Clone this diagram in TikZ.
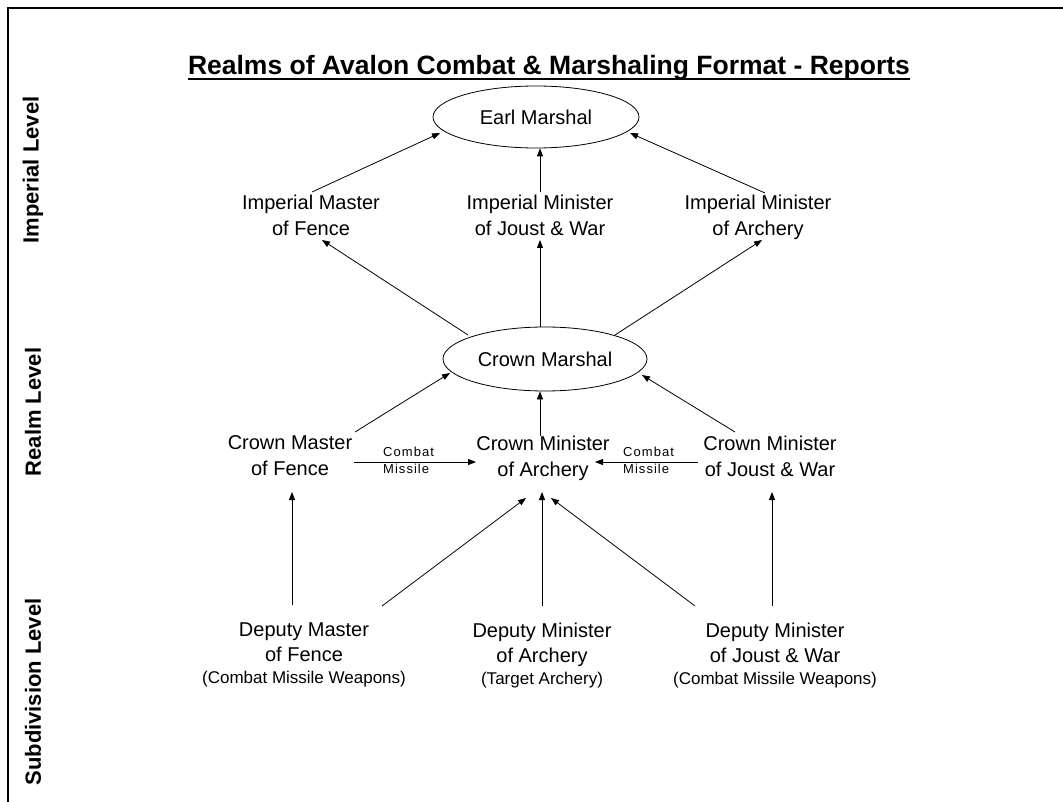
\documentclass[tikz,border=0pt]{standalone}
\usepackage{fontspec}
\setmainfont{Liberation Sans}
\usetikzlibrary{arrows.meta,shapes.geometric,calc}
\begin{document}
\begin{tikzpicture}[x=1pt,y=-1pt,
  lbl/.style={align=center,anchor=north,inner sep=0pt,font=\fontsize{20}{26}\selectfont},
  dep/.style={align=center,anchor=north,inner sep=0pt,font=\fontsize{20}{25}\selectfont},
  oval/.style={ellipse,draw,line width=0.8pt,inner sep=0pt,font=\fontsize{20}{26}\selectfont},
  tiny/.style={align=left,anchor=north west,inner sep=0pt,font=\fontsize{13}{17}\selectfont\addfontfeatures{LetterSpace=8}},
  side/.style={rotate=90,inner sep=0pt,font=\bfseries\fontsize{22}{26}\selectfont},
  arr/.style={-{Triangle[length=8pt,width=6pt]},line width=0.8pt}]
\useasboundingbox[fill=white] (0,0) rectangle (1063,802);
\draw[line width=1.6pt] (1063,8) -- (8,8) -- (8,802);
% title
\node[anchor=base,inner sep=0pt,font=\bfseries\fontsize{26.5}{30}\selectfont] (title) at (549,75) {Realms of Avalon Combat \& Marshaling Format - Reports};
\draw[line width=2pt] ($(title.base west)+(0,4.5)$) -- ($(title.base east)+(0,4.5)$);
% side labels
\node[side] (lvimp) at (33,170) {Imperial Level};
\node[side] (lvrealm) at (33,412) {Realm Level};
\node[side] (lvsub) at (33,692) {Subdivision Level};
% nodes
\node[oval,minimum width=206pt,minimum height=62pt] (em) at (536,117) {Earl Marshal};
\node[lbl] (imf) at (311,194.5) {Imperial Master\\of Fence};
\node[lbl] (imj) at (540,194.5) {Imperial Minister\\of Joust \& War};
\node[lbl] (ima) at (758,194.5) {Imperial Minister\\of Archery};
\node[oval,minimum width=204pt,minimum height=64pt] (cm) at (545,359) {Crown Marshal};
\node[lbl] (cmf) at (290,435.5) {Crown Master\\of Fence};
\node[lbl] (cma) at (543,435.5) {Crown Minister\\of Archery};
\node[lbl] (cmj) at (770,435.5) {Crown Minister\\of Joust \& War};
\node[tiny] (cb1) at (383,447) {Combat\\Missile};
\node[tiny] (cb2) at (623,447) {Combat\\Missile};
\node[dep] (dmf) at (304,622.5) {Deputy Master\\of Fence\\[-3pt]{\fontsize{17}{22}\selectfont (Combat Missile Weapons)}};
\node[dep] (dma) at (542,622.5) {Deputy Minister\\of Archery\\[-3pt]{\fontsize{17}{22}\selectfont (Target Archery)}};
\node[dep] (dmj) at (775,622.5) {Deputy Minister\\of Joust \& War\\[-3pt]{\fontsize{17}{22}\selectfont (Combat Missile Weapons)}};
% imperial -> earl marshal
\draw[arr] ($(imf.north)+(1,-2.5)$) -- ($(em)+(-96,16)$);
\draw[arr] ($(imj.north)+(0,-2)$) -- (imj.north |- em.south);
\draw[arr] ($(ima.north)+(7,-1.5)$) -- ($(em)+(94,16)$);
% crown marshal -> imperial
\draw[arr] ($(cm)+(-77,-24)$) -- ($(imf.north)+(11,45.5)$);
\draw[arr] (imj.north |- cm.north) -- ($(imj.north)+(0,45.5)$);
\draw[arr] ($(cm)+(70,-24)$) -- ($(ima.north)+(4,45.5)$);
% crown -> crown marshal
\draw[arr] ($(cmf.north)+(65,-3.5)$) -- ($(cm)+(-95,14)$);
\draw[arr] ([xshift=-3pt]cma.north) -- ([xshift=-3pt]cma.north |- cm.south);
\draw[arr] ($(cmj.north)+(-35,-3.5)$) -- ($(cm)+(97,16)$);
% combat missile
\draw[arr] ($(cmf.north)+(64,26.5)$) -- ($(cma.north)+(-67,26.5)$);
\draw[arr] ($(cmj.north)+(-72,26.5)$) -- ($(cma.north)+(52,26.5)$);
% deputies -> crown
\draw[arr] ($(dmf.north)+(-12,-17.5)$) -- ($(cmf.north)+(2,56.5)$);
\draw[arr] ($(dmf.north)+(78,-16.5)$) -- ($(cma.north)+(-17,62.5)$);
\draw[arr] ($(dma.north)+(0,-16.5)$) -- ($(cma.north)+(-1,56.5)$);
\draw[arr] ($(dmj.north)+(-80,-16.5)$) -- ($(cma.north)+(8,62.5)$);
\draw[arr] ($(dmj.north)+(-3,-16.5)$) -- ($(cmj.north)+(2,56.5)$);
\end{tikzpicture}
\end{document}
